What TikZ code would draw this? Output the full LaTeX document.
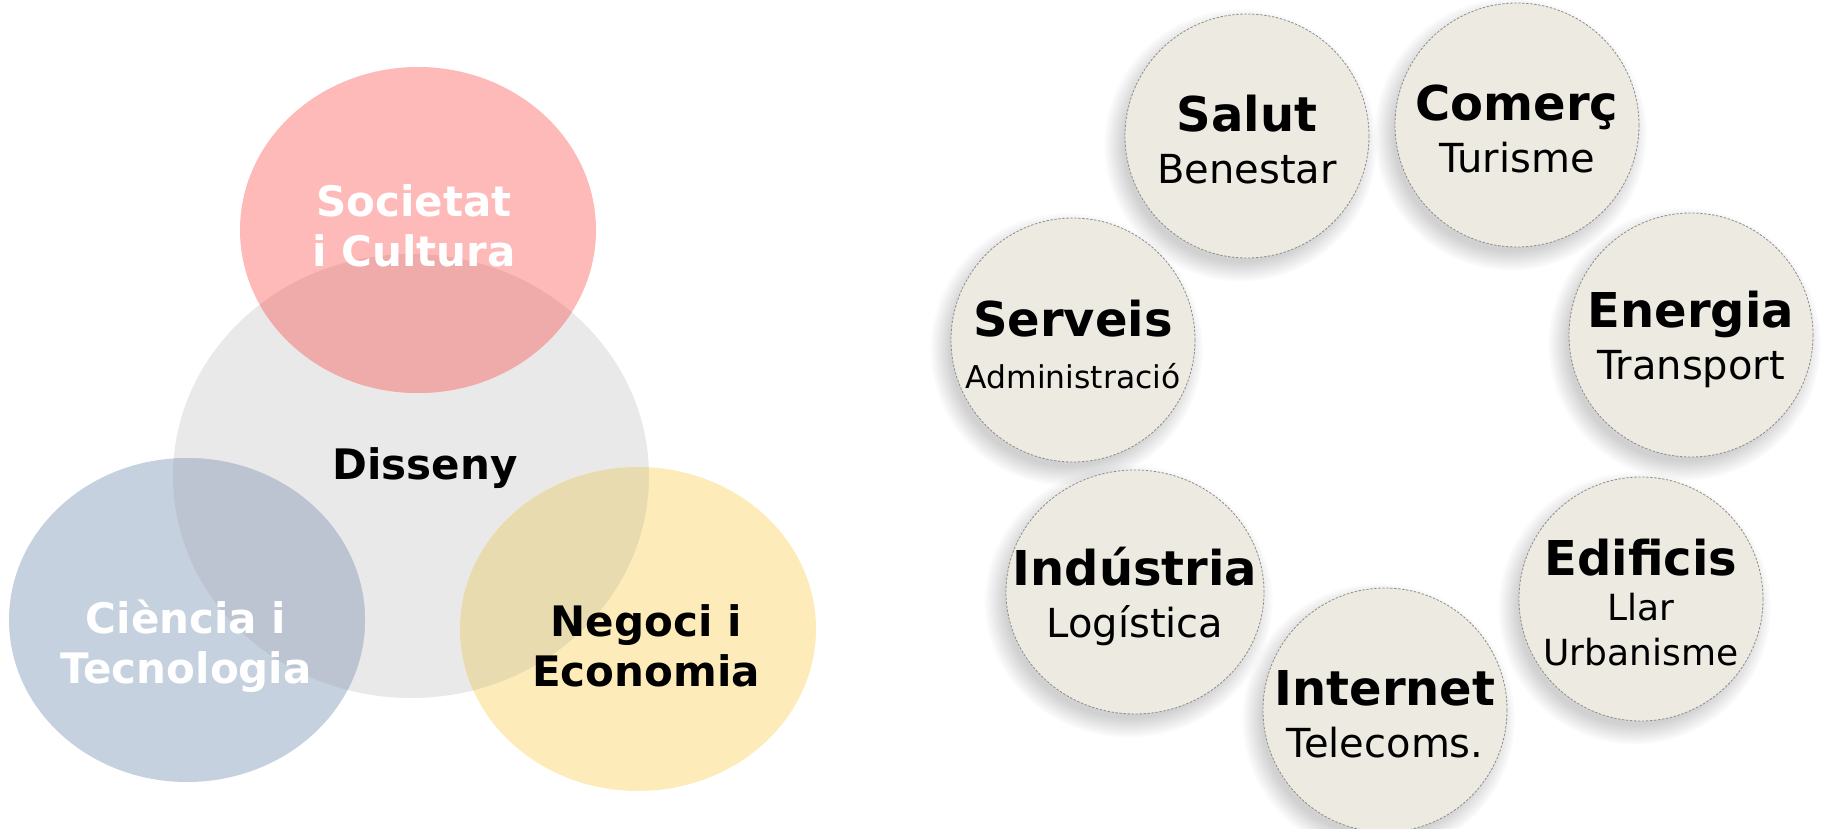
\documentclass[tikz,border=0pt]{standalone}
\usepackage{fontspec}
\setmainfont{DejaVu Sans}
\usetikzlibrary{shadows,shapes.geometric}
\definecolor{rosa}{HTML}{FEB9B9}
\definecolor{rosagris}{HTML}{EFAAAA}
\definecolor{blau}{HTML}{C6D1DF}
\definecolor{blaugris}{HTML}{BCC3D1}
\definecolor{groc}{HTML}{FEEBBA}
\definecolor{grocgris}{HTML}{E9DBB0}
\definecolor{gris}{HTML}{E9E9E9}
\definecolor{beix}{HTML}{EDEBE1}
\newcommand{\tema}[1]{{\fontsize{24}{26}\bfseries #1}}
\begin{document}
\begin{tikzpicture}[x=0.5pt, y=-0.5pt,
    ambit/.style ={circle, fill=beix, draw=black!45, line width=0.4pt,
      dash pattern=on 1.2pt off 0.8pt, minimum size=122pt, inner sep=0pt,
      circular drop shadow={shadow xshift=-3pt, shadow yshift=-4pt,
        shadow scale=1.12, opacity=0.4, fill=black!45}},
    rotul/.style ={align=center, inner sep=0pt, yshift=-2pt,
      font=\fontsize{20}{26}\selectfont},
    venn/.style ={align=center, font=\fontsize{21}{25}\selectfont\bfseries}]
   \useasboundingbox (0,0) rectangle (1822,829);

   % Venn de disciplines
   \fill[gris] (411,476) ellipse [x radius=238, y radius=222];
   \fill[rosa] (418,230) ellipse [x radius=178, y radius=163];
   \fill[blau] (187,620) ellipse [x radius=178, y radius=162];
   \fill[groc] (638,629) ellipse [x radius=178, y radius=162];
   \begin{scope}
     \clip (411,476) ellipse [x radius=238, y radius=222];
     \fill[rosagris] (418,230) ellipse [x radius=178, y radius=163];
     \fill[blaugris] (187,620) ellipse [x radius=178, y radius=162];
     \fill[grocgris] (638,629) ellipse [x radius=178, y radius=162];
   \end{scope}

   \node[venn, white] (soc) at (414,226) {Societat\\i Cultura};
   \node[venn] (dis) at (425,468) {Disseny};
   \node[venn, white] (cie) at (186,646) {Ciència i\\Tecnologia};
   \node[venn] (neg) at (646,646) {Negoci i\\Economia};

   % Ambits d'aplicacio
   \node[ambit] (sal) at (1247,136) {};
   \node[ambit] (com) at (1517,125) {};
   \node[ambit] (ser) at (1073,340) {};
   \node[ambit] (ene) at (1691,335) {};
   \node[ambit, ellipse, minimum width=129pt, minimum height=122pt] (ind) at (1135,592) {};
   \node[ambit] (edi) at (1641,599) {};
   \node[ambit] (int) at (1385,710) {};

   \node[rotul] (sal-t) at (sal) {\tema{Salut}\\Benestar};
   \node[rotul] (com-t) at (com) {\tema{Comerç}\\Turisme};
   \node[rotul] (ser-t) at (ser) {\tema{Serveis}\\{\fontsize{15.7}{20}\selectfont Administració}};
   \node[rotul] (ene-t) at (ene) {\tema{Energia}\\Transport};
   \node[rotul] (ind-t) at (ind) {\tema{Indústria}\\Logística};
   \node[rotul, font=\fontsize{18}{22.5}\selectfont] (edi-t) at (edi) {\tema{Edificis}\\Llar\\Urbanisme};
   \node[rotul] (int-t) at (int) {\tema{Internet}\\Telecoms.};
 \end{tikzpicture}
\end{document}
